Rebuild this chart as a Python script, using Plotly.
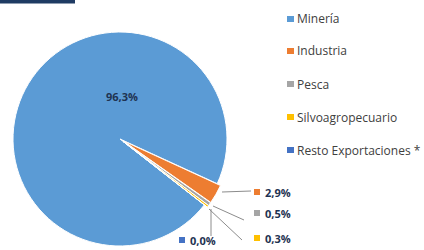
import plotly.graph_objects as go

W, H = 424, 250

# ---- data ----
categories = ["Minería", "Industria", "Pesca", "Silvoagropecuario", "Resto Exportaciones *"]
shares = [96.3, 2.9, 0.5, 0.3, 0.0]
colors = ["#5b9bd5", "#ed7d31", "#a5a5a5", "#ffc000", "#4472c4"]


def fx(x):
    return x / W


def fy(y):
    return 1 - y / H


def pct(v):
    return f"{v:.1f}".replace(".", ",") + "%"


# pie placement (pixels)
cx, cy, r = 120, 139, 107
pull_small = 0.035
half = r * (1 + pull_small)

fig = go.Figure()
fig.add_trace(go.Pie(
    labels=categories,
    values=shares,
    marker=dict(colors=colors, line=dict(color="white", width=1)),
    sort=False,
    direction="clockwise",
    rotation=128,
    pull=[0] + [pull_small] * 4,
    textinfo="none",
    hoverinfo="label+percent",
    showlegend=False,
    domain=dict(x=[fx(cx - half), fx(cx + half)], y=[fy(cy + half), fy(cy - half)]),
))

shapes = []
annotations = []
label_font = dict(family="Open Sans", size=11, color="#1f3352")

# big slice label
annotations.append(dict(x=fx(122), y=fy(96), xref="paper", yref="paper",
                        text=f"<b>{pct(shares[0])}</b>", showarrow=False,
                        font=label_font, xanchor="center", yanchor="middle"))

# small slice labels: (square x, y, leader line x0,y0,x1,y1)
small_pos = [
    (257, 192, (222, 192, 251, 191)),
    (257, 213, (213, 206, 244, 220)),
    (257, 238, (209, 209, 242, 240)),
    (182, 240, None),
]
for i, (sx, sy, lead) in enumerate(small_pos, start=1):
    shapes.append(dict(type="rect", xref="paper", yref="paper",
                       x0=fx(sx - 3), x1=fx(sx + 3), y0=fy(sy + 3), y1=fy(sy - 3),
                       fillcolor=colors[i], line=dict(width=0)))
    annotations.append(dict(x=fx(sx + 6), y=fy(sy), xref="paper", yref="paper",
                            text=f"<b>{pct(shares[i])}</b>", showarrow=False,
                            font=label_font, xanchor="left", yanchor="middle"))
    if lead:
        x0, y0, x1, y1 = lead
        shapes.append(dict(type="line", xref="paper", yref="paper",
                           x0=fx(x0), y0=fy(y0), x1=fx(x1), y1=fy(y1),
                           line=dict(color="#8c8c8c", width=1)))
# leader for the 0,0% label
shapes.append(dict(type="path", xref="paper", yref="paper",
                   path=f"M {fx(211)} {fy(209)} L {fx(211)} {fy(236)}",
                   line=dict(color="#8c8c8c", width=1)))

# legend (manual)
legend_y = [19, 51, 84, 117, 150]
for i, (name, ly) in enumerate(zip(categories, legend_y)):
    shapes.append(dict(type="rect", xref="paper", yref="paper",
                       x0=fx(287), x1=fx(294), y0=fy(ly + 3), y1=fy(ly - 3),
                       fillcolor=colors[i], line=dict(width=0)))
    annotations.append(dict(x=fx(295), y=fy(ly), xref="paper", yref="paper",
                            text=name, showarrow=False,
                            font=dict(family="Open Sans", size=12, color="#404040"),
                            xanchor="left", yanchor="middle"))

# cropped title bar at top-left
shapes.append(dict(type="rect", xref="paper", yref="paper",
                   x0=0, x1=fx(75), y0=fy(3.5), y1=1,
                   fillcolor="#1f3b63", line=dict(width=0)))

fig.update_layout(
    width=W, height=H,
    margin=dict(l=0, r=0, t=0, b=0),
    paper_bgcolor="white",
    plot_bgcolor="white",
    shapes=shapes,
    annotations=annotations,
)

fig.write_html("out.html", config={"displayModeBar": False},
               post_script="document.body.style.margin='0px';")
